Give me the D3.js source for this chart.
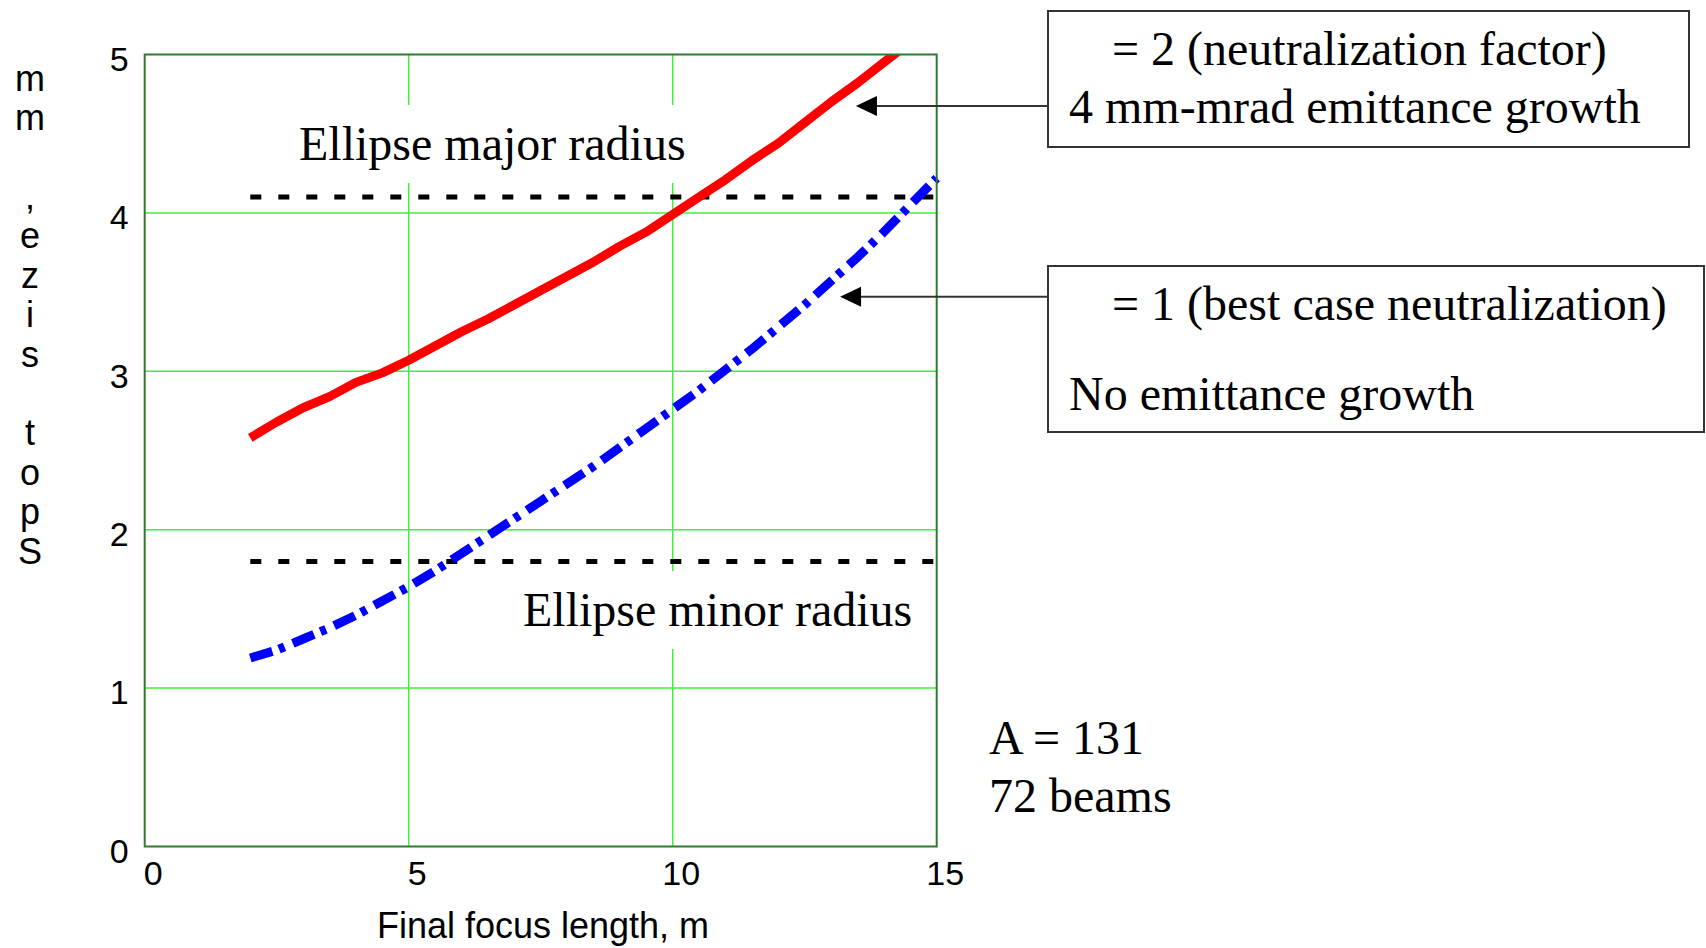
<!DOCTYPE html>
<html>
<head>
<meta charset="utf-8">
<script src="https://cdn.jsdelivr.net/npm/d3@7"></script>
<style>
  body { margin: 0; background: #fff; }
  svg { display: block; }
</style>
</head>
<body>
<svg id="chart"></svg>
<script>
// Data
const xTicks = [0, 5, 10, 15];
const yTicks = [0, 1, 2, 3, 4, 5];
const xGrid = [5, 10];
const yGrid = [1, 2, 3, 4];

// Ellipse major radius (solid red)
const majorX = [2, 2.5, 3, 3.5, 4, 4.5, 5, 5.5, 6, 6.5, 7, 7.5, 8, 8.5, 9, 9.5, 10, 10.5, 11, 11.5, 12, 12.5, 13, 13.5, 14, 14.5];
const majorY = [2.58, 2.68, 2.77, 2.84, 2.93, 2.99, 3.07, 3.16, 3.25, 3.33, 3.42, 3.51, 3.60, 3.69, 3.79, 3.88, 3.99, 4.10, 4.21, 4.33, 4.44, 4.57, 4.70, 4.82, 4.95, 5.08];

// Ellipse minor radius (blue dash-dot)
const minorX = [2, 2.5, 3, 3.5, 4, 4.5, 5, 5.5, 6, 6.5, 7, 7.5, 8, 8.5, 9, 9.5, 10, 10.5, 11, 11.5, 12, 12.5, 13, 13.5, 14, 14.5, 15];
const minorY = [1.19, 1.24, 1.31, 1.38, 1.46, 1.55, 1.64, 1.74, 1.85, 1.96, 2.07, 2.18, 2.29, 2.40, 2.52, 2.64, 2.76, 2.88, 3.01, 3.14, 3.28, 3.42, 3.57, 3.72, 3.88, 4.05, 4.22];

// Horizontal reference levels (dotted black)
const refLevels = [4.1, 1.8];
const refStart = 2;
const refEnd = 15;

// Arrow tips in data units
const arrowTips = [{ x: 13.47, y: 4.675 }, { x: 13.17, y: 3.47 }];

const yLabel = 'Spot size, mm';
const xLabel = 'Final focus length, m';

const width = 1706;
const height = 948;
const margin = { top: 54.5, left: 144.7, right: 769.3, bottom: 101.5 };
const plotW = width - margin.left - margin.right;
const plotH = height - margin.top - margin.bottom;

const serif = '"Liberation Serif", "Times New Roman", serif';
const sans = '"Liberation Sans", Arial, sans-serif';

const svg = d3.select('#chart')
  .attr('width', width)
  .attr('height', height);

const x = d3.scaleLinear().domain([0, 15]).range([margin.left, margin.left + plotW]);
const y = d3.scaleLinear().domain([0, 5]).range([margin.top + plotH, margin.top]);

// Grid
svg.append('g')
  .selectAll('line')
  .data(xGrid)
  .join('line')
  .attr('x1', d => x(d)).attr('x2', d => x(d))
  .attr('y1', y(0)).attr('y2', y(5))
  .attr('stroke', '#3cf03c')
  .attr('stroke-width', 1.5);

svg.append('g')
  .selectAll('line')
  .data(yGrid)
  .join('line')
  .attr('x1', x(0)).attr('x2', x(15))
  .attr('y1', d => y(d)).attr('y2', d => y(d))
  .attr('stroke', '#3cf03c')
  .attr('stroke-width', 1.5);

// Text labels inside the plot, with white backing that hides the grid
const plotLabels = [
  { text: 'Ellipse major radius', x: 299, y: 160 },
  { text: 'Ellipse minor radius', x: 523, y: 626 },
];
plotLabels.forEach(l => {
  const t = svg.append('text')
    .attr('x', l.x).attr('y', l.y)
    .attr('font-family', serif)
    .attr('font-size', 48)
    .attr('fill', '#000')
    .text(l.text);
  const bb = t.node().getBBox();
  svg.insert('rect', 'text')
    .attr('x', bb.x - 8).attr('y', l.y - 55)
    .attr('width', bb.width + 16).attr('height', 78)
    .attr('fill', '#fff');
});

// Clip region for curves
svg.append('clipPath').attr('id', 'plot-clip')
  .append('rect')
  .attr('x', x(0)).attr('y', y(5))
  .attr('width', plotW + 6).attr('height', plotH);

// Dotted reference lines
svg.append('g')
  .selectAll('line')
  .data(refLevels)
  .join('line')
  .attr('x1', x(refStart)).attr('x2', x(refEnd))
  .attr('y1', d => y(d)).attr('y2', d => y(d))
  .attr('stroke', '#000')
  .attr('stroke-width', 5)
  .attr('stroke-dasharray', '11,17');

const line = d3.line().x(d => x(d[0])).y(d => y(d[1]));

svg.append('path')
  .datum(d3.zip(majorX, majorY))
  .attr('clip-path', 'url(#plot-clip)')
  .attr('d', line)
  .attr('fill', 'none')
  .attr('stroke', '#ff0000')
  .attr('stroke-width', 9)
  .attr('stroke-linejoin', 'round');

svg.append('path')
  .datum(d3.zip(minorX, minorY))
  .attr('d', line)
  .attr('fill', 'none')
  .attr('stroke', '#0000ff')
  .attr('stroke-width', 9)
  .attr('stroke-dasharray', '23,7,6,9');

// Plot frame
svg.append('rect')
  .attr('x', x(0)).attr('y', y(5))
  .attr('width', plotW).attr('height', plotH)
  .attr('fill', 'none')
  .attr('stroke', '#2f7a2f')
  .attr('stroke-width', 2);

// Axes (labels only)
const xAxis = svg.append('g')
  .attr('transform', `translate(8, ${y(0)})`)
  .call(d3.axisBottom(x).tickValues(xTicks).tickFormat(d3.format('d')).tickSize(0).tickPadding(14));
const yAxis = svg.append('g')
  .attr('transform', `translate(${x(0) - 16}, 5)`)
  .call(d3.axisLeft(y).tickValues(yTicks).tickFormat(d3.format('d')).tickSize(0).tickPadding(0));
[xAxis, yAxis].forEach(a => {
  a.select('.domain').remove();
  a.selectAll('text')
    .attr('font-family', sans)
    .attr('font-size', 34)
    .attr('fill', '#000');
});

svg.append('text')
  .attr('x', 543).attr('y', 938)
  .attr('text-anchor', 'middle')
  .attr('font-family', sans)
  .attr('font-size', 36)
  .text(xLabel);

// Y label: characters stacked bottom to top
const yChars = yLabel.split('');
svg.append('g')
  .selectAll('text')
  .data(yChars)
  .join('text')
  .attr('x', 30)
  .attr('y', (d, i) => 551 - i * 39.4)
  .attr('text-anchor', 'middle')
  .attr('dominant-baseline', 'central')
  .attr('font-family', sans)
  .attr('font-size', 36)
  .text(d => d);

// Annotation boxes
const boxes = [
  { x: 1048, y: 11, w: 641, h: 136, lines: [
    { text: '= 2 (neutralization factor)', x: 1112, y: 65 },
    { text: '4 mm-mrad emittance growth', x: 1069, y: 123 },
  ] },
  { x: 1048, y: 266, w: 656, h: 166, lines: [
    { text: '= 1 (best case neutralization)', x: 1112, y: 320 },
    { text: 'No emittance growth', x: 1069, y: 410 },
  ] },
];

boxes.forEach((b, i) => {
  svg.append('rect')
    .attr('x', b.x).attr('y', b.y)
    .attr('width', b.w).attr('height', b.h)
    .attr('fill', '#fff')
    .attr('stroke', '#333')
    .attr('stroke-width', 2);
  b.lines.forEach(l => {
    svg.append('text')
      .attr('x', l.x).attr('y', l.y)
      .attr('font-family', serif)
      .attr('font-size', 48)
      .text(l.text);
  });
  const tip = arrowTips[i];
  const tx = x(tip.x);
  const ty = y(tip.y);
  svg.append('line')
    .attr('x1', b.x).attr('x2', tx + 18)
    .attr('y1', ty).attr('y2', ty)
    .attr('stroke', '#333')
    .attr('stroke-width', 2);
  svg.append('path')
    .attr('d', `M${tx},${ty}L${tx + 21},${ty - 10}L${tx + 21},${ty + 10}Z`)
    .attr('fill', '#000');
});

// Side notes
const notes = [
  { text: 'A = 131', x: 989, y: 754 },
  { text: '72 beams', x: 989, y: 812 },
];
svg.append('g')
  .selectAll('text')
  .data(notes)
  .join('text')
  .attr('x', d => d.x).attr('y', d => d.y)
  .attr('font-family', serif)
  .attr('font-size', 48)
  .text(d => d.text);
</script>
</body>
</html>
